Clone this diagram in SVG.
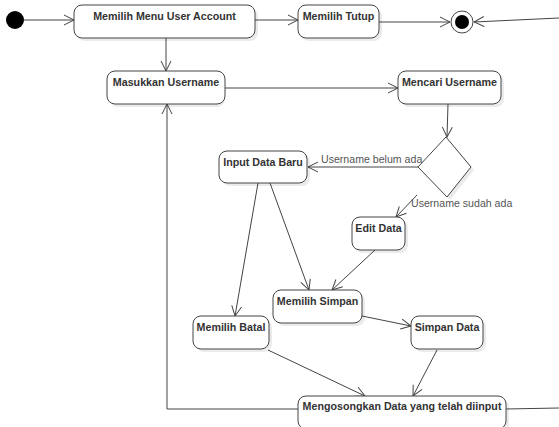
<svg xmlns="http://www.w3.org/2000/svg" width="559" height="427" viewBox="0 0 559 427">
<style>
.box{fill:#fff;stroke:#444;stroke-width:1}
.sh{fill:#000;opacity:0.08}
.t{font-family:"Liberation Sans",Arial,sans-serif;font-size:10.7px;font-weight:bold;fill:#333;text-anchor:middle}
.lb{font-family:"Liberation Sans",Arial,sans-serif;font-size:10.6px;fill:#555}
.c{fill:none;stroke:#444;stroke-width:1}
</style>
<defs>
<marker id="a" viewBox="0 0 12 12" refX="11" refY="6" markerWidth="12" markerHeight="12" markerUnits="userSpaceOnUse" orient="auto">
<path d="M1,1 L11,6 L1,11" fill="none" stroke="#444" stroke-width="1"/>
</marker>
</defs>
<rect width="559" height="427" fill="#fff"/>
<g id="connectors">
<line class="c" x1="24" y1="20" x2="74" y2="20" marker-end="url(#a)"/>
<line class="c" x1="255" y1="20" x2="298" y2="20" marker-end="url(#a)"/>
<line class="c" x1="379" y1="22" x2="450" y2="22" marker-end="url(#a)"/>
<line class="c" x1="559" y1="18" x2="474" y2="22" marker-end="url(#a)"/>
<line class="c" x1="166" y1="38" x2="166" y2="71" marker-end="url(#a)"/>
<line class="c" x1="225" y1="88" x2="398" y2="88" marker-end="url(#a)"/>
<line class="c" x1="448" y1="104" x2="447" y2="137" marker-end="url(#a)"/>
<line class="c" x1="418" y1="167" x2="308" y2="167" marker-end="url(#a)"/>
<line class="c" x1="417" y1="195" x2="396" y2="217" marker-end="url(#a)"/>
<line class="c" x1="258" y1="183" x2="235" y2="316" marker-end="url(#a)"/>
<line class="c" x1="270" y1="183" x2="309" y2="290" marker-end="url(#a)"/>
<line class="c" x1="375" y1="250" x2="332" y2="290" marker-end="url(#a)"/>
<line class="c" x1="362" y1="316" x2="411" y2="326" marker-end="url(#a)"/>
<line class="c" x1="268" y1="350" x2="365" y2="396" marker-end="url(#a)"/>
<line class="c" x1="437" y1="350" x2="413" y2="396" marker-end="url(#a)"/>
<polyline class="c" points="298,409 167,409 167,104" marker-end="url(#a)"/>
<line class="c" x1="506" y1="409" x2="559" y2="408"/>
<text class="lb" x="321" y="163">Username belum ada</text>
<text class="lb" x="411" y="207">Username sudah ada</text>
</g>
<g id="start"><circle cx="15" cy="20" r="9" fill="#000"/></g>
<g id="end"><circle cx="462" cy="22" r="11" fill="#fff" stroke="#444"/><circle cx="462" cy="22" r="7" fill="#000"/></g>
<g id="n1"><rect class="sh" x="77" y="8" width="181" height="33" rx="8"/><rect class="box" x="74" y="5" width="181" height="33" rx="8"/><text class="t" x="164.5" y="20">Memilih Menu User Account</text></g>
<g id="n2"><rect class="sh" x="301" y="8" width="81" height="33" rx="8"/><rect class="box" x="298" y="5" width="81" height="33" rx="8"/><text class="t" x="338.5" y="20">Memilih Tutup</text></g>
<g id="n3"><rect class="sh" x="110" y="74" width="115" height="33" rx="8"/><rect class="box" x="107" y="71" width="118" height="33" rx="8"/><text class="t" x="166" y="86">Masukkan Username</text></g>
<g id="n4"><rect class="sh" x="401" y="74" width="103" height="33" rx="8"/><rect class="box" x="398" y="71" width="103" height="33" rx="8"/><text class="t" x="449.5" y="86">Mencari Username</text></g>
<g id="decision"><polygon points="449,140 474,170 450,200 421,170" class="sh"/><polygon points="446,137 471,167 447,197 418,167" fill="#fff" stroke="#444"/></g>
<g id="n5"><rect class="sh" x="222" y="154" width="88" height="32" rx="8"/><rect class="box" x="219" y="151" width="88" height="32" rx="8"/><text class="t" x="263" y="166">Input Data Baru</text></g>
<g id="n6"><rect class="sh" x="355" y="220" width="53" height="33" rx="8"/><rect class="box" x="352" y="217" width="53" height="33" rx="8"/><text class="t" x="378.5" y="232">Edit Data</text></g>
<g id="n7"><rect class="sh" x="276" y="293" width="89" height="33" rx="8"/><rect class="box" x="273" y="290" width="89" height="33" rx="8"/><text class="t" x="317.5" y="305">Memilih Simpan</text></g>
<g id="n8"><rect class="sh" x="196" y="319" width="76" height="33" rx="8"/><rect class="box" x="193" y="316" width="76" height="33" rx="8"/><text class="t" x="231" y="331">Memilih Batal</text></g>
<g id="n9"><rect class="sh" x="414" y="319" width="72" height="33" rx="8"/><rect class="box" x="411" y="316" width="72" height="33" rx="8"/><text class="t" x="447" y="331">Simpan Data</text></g>
<g id="n10"><rect class="sh" x="301" y="399" width="208" height="33" rx="8"/><rect class="box" x="298" y="396" width="208" height="33" rx="8"/><text class="t" x="402" y="410">Mengosongkan Data yang telah diinput</text></g>
</svg>
